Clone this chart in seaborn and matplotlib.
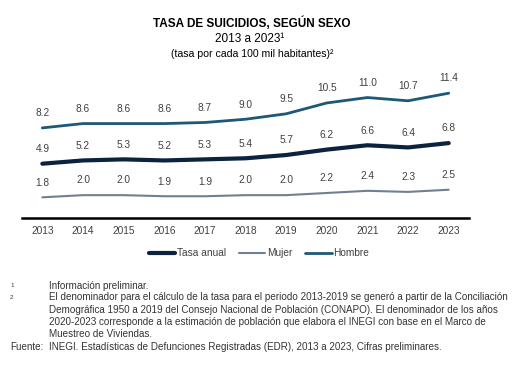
import matplotlib

matplotlib.use("Agg")

import matplotlib.pyplot as plt
import pandas as pd
import seaborn as sns

years = list(range(2013, 2024))
tasa_anual = [4.9, 5.2, 5.3, 5.2, 5.3, 5.4, 5.7, 6.2, 6.6, 6.4, 6.8]
mujer = [1.8, 2.0, 2.0, 1.9, 1.9, 2.0, 2.0, 2.2, 2.4, 2.3, 2.5]
hombre = [8.2, 8.6, 8.6, 8.6, 8.7, 9.0, 9.5, 10.5, 11.0, 10.7, 11.4]

series_names = ["Tasa anual", "Mujer", "Hombre"]
colors = {"Tasa anual": "#0c2340", "Mujer": "#6f8191", "Hombre": "#1d5876"}
widths = {"Tasa anual": 3.0, "Mujer": 1.5, "Hombre": 2.0}

df = pd.DataFrame({"year": years, "Tasa anual": tasa_anual, "Mujer": mujer, "Hombre": hombre})
long = df.melt(id_vars="year", var_name="serie", value_name="tasa")

sns.set_style("white")
plt.rcParams["font.family"] = ["Liberation Sans", "DejaVu Sans"]

fig = plt.figure(figsize=(5.29, 3.70), dpi=100)
ax = fig.add_axes([0.0416, 0.411, 0.845, 0.384])

for name in series_names:
    sub = long[long["serie"] == name]
    sns.lineplot(data=sub, x="year", y="tasa", ax=ax, color=colors[name],
                 linewidth=widths[name], label=name)
    for x, y in zip(sub["year"], sub["tasa"]):
        ax.annotate(f"{y:.1f}", (x, y), xytext=(0, 7), textcoords="offset points",
                    ha="center", va="bottom", fontsize=7.3, color="#404040")

ax.set_xlim(2012.5, 2023.5)
ax.set_ylim(-0.1, 13)
ax.set_xticks(years)
ax.set_xticklabels([str(y) for y in years], fontsize=7.3, color="#404040")
ax.tick_params(axis="x", length=0, pad=6)
ax.set_yticks([])
ax.set_xlabel("")
ax.set_ylabel("")
for side in ["top", "right", "left"]:
    ax.spines[side].set_visible(False)
ax.spines["bottom"].set_color("black")
ax.spines["bottom"].set_linewidth(1.8)

ax.legend(loc="upper center", bbox_to_anchor=(0.53, -0.15), ncol=3, frameon=False,
          fontsize=7.3, handlelength=2.6, handletextpad=0.15, columnspacing=1.3,
          labelcolor="#404040")

fig.text(0.476, 0.937, "TASA DE SUICIDIOS, SEGÚN SEXO", ha="center", va="center",
         fontsize=8.5, fontweight="bold", color="black")
fig.text(0.471, 0.895, "2013 a 2023¹", ha="center", va="center", fontsize=8.5, color="black")
fig.text(0.476, 0.855, "(tasa por cada 100 mil habitantes)²", ha="center", va="center",
         fontsize=7.6, color="black")

note_color = "#333333"
fs = 7.15
fig.text(0.019, 0.228, "1", fontsize=4.5, va="center", color=note_color)
fig.text(0.093, 0.228, "Información preliminar.", fontsize=fs, va="center", color=note_color)
fig.text(0.019, 0.196, "2", fontsize=4.5, va="center", color=note_color)
note2 = [
    "El denominador para el cálculo de la tasa para el periodo 2013-2019 se generó a partir de la Conciliación",
    "Demográfica 1950 a 2019 del Consejo Nacional de Población (CONAPO). El denominador de los años",
    "2020-2023 corresponde a la estimación de población que elabora el INEGI con base en el Marco de",
    "Muestreo de Viviendas.",
]
for i, line in enumerate(note2):
    fig.text(0.093, 0.196 - i * 0.0328, line, fontsize=fs, va="center", color=note_color)
fig.text(0.019, 0.062, "Fuente:", fontsize=fs, va="center", color=note_color)
fig.text(0.093, 0.062, "INEGI. Estadísticas de Defunciones Registradas (EDR), 2013 a 2023, Cifras preliminares.",
         fontsize=fs, va="center", color=note_color)

fig.savefig("out.png", dpi=100)
